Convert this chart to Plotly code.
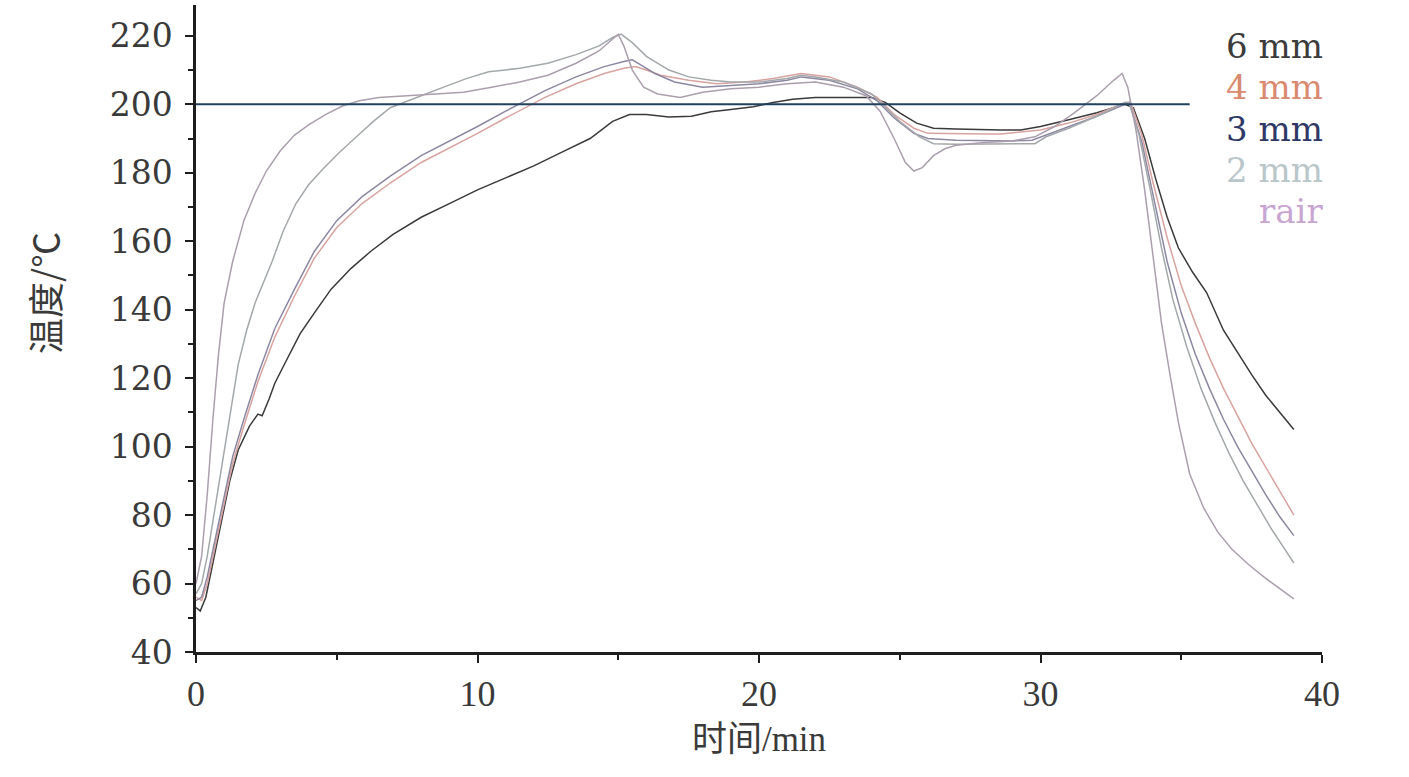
import plotly.graph_objects as go

# Furnace temperature (°C) versus time (min) for each plate thickness
t_6mm = [0, 0.15, 0.35, 0.6, 0.9, 1.2, 1.5, 1.9, 2.2, 2.35, 2.6, 2.8, 3.2, 3.7, 4.2, 4.8, 5.5, 6.2, 7.0, 8.0,
         9, 10, 11, 12, 13, 14, 14.8, 15.4, 16, 16.8, 17.6, 18.3, 19, 19.8, 20.5, 21.2, 22, 23, 24, 24.5,
         25, 25.6, 26.2, 27, 28, 28.6, 29.3, 30, 31, 32, 33, 33.3, 33.7, 34.1, 34.5, 34.9, 35.4, 35.9, 36.5, 37,
         37.5, 38, 38.5, 39]
T_6mm = [53, 52, 56, 66, 78, 90, 99, 106, 109.5, 109, 114, 118.5, 125, 133, 139, 146, 152, 157, 162, 167,
         171, 175, 178.5, 182, 186, 190, 195, 197, 197, 196.3, 196.5, 197.8, 198.5, 199.3, 200.5, 201.5, 202, 202, 202, 200.5,
         197.5, 194.5, 193, 192.8, 192.5, 192.5, 192.5, 193.5, 195.5, 197.5, 200, 199, 190, 178, 167, 158, 151, 145, 134, 127.5,
         121, 115, 110, 105]

t_4mm = [0, 0.2, 0.4, 0.7, 1.0, 1.3, 1.7, 2.2, 2.8, 3.5, 4.2, 5.0, 5.9, 6.9, 8.0, 9.2, 10, 11, 12.4, 13.5,
         14.5, 15.2, 15.6, 16, 16.5, 17.5, 18.5, 19.5, 20.5, 21.5, 22.5, 23.5, 24.2, 24.8, 25.5, 26, 27, 28, 28.6, 29.2,
         30, 31, 32, 33, 33.2, 33.6, 34, 34.5, 35, 35.5, 36, 36.5, 37, 37.5, 38, 38.5, 39]
T_4mm = [56, 55, 60, 72, 84, 95, 106, 119, 132, 144, 155, 164, 171, 177, 183, 188, 191.5, 196, 202, 206,
         209, 210.5, 211, 210, 208.5, 207, 206, 206.5, 207.5, 209, 208, 205, 202, 197, 193, 191.5, 191.3, 191.3, 191.3, 191.8,
         192.5, 194.5, 197, 200.5, 200.5, 191, 177, 161, 147, 136, 126, 117, 109, 101, 94, 87, 80]

t_3mm = [0, 0.2, 0.4, 0.7, 1.0, 1.3, 1.7, 2.2, 2.8, 3.5, 4.2, 5.0, 5.9, 6.9, 8.0, 9.2, 10, 11, 12.4, 13.5,
         14.5, 15.2, 15.5, 15.9, 16.3, 17, 18, 19, 20, 21, 21.5, 22.5, 23.5, 24.2, 24.8, 25.5, 26, 27, 28, 29,
         29.7, 30.2, 31, 32, 33, 33.15, 33.6, 34, 34.5, 35, 35.5, 36, 36.5, 37, 37.5, 38, 38.5, 39]
T_3mm = [55, 56, 62, 74, 86, 97, 108, 121, 134.5, 146, 157, 166, 173, 179, 185, 190, 193.5, 198, 204, 208,
         211, 212.5, 213, 211, 209, 206.5, 205, 205.5, 206, 207, 208, 207, 204.5, 201, 196, 191.5, 190, 189.5, 189.3, 189.3,
         189.5, 191, 193.5, 196.5, 200, 200.5, 189, 173, 154, 139, 127, 117, 108, 100, 93, 86, 79.5, 74]

t_2mm = [0, 0.2, 0.4, 0.7, 1.0, 1.2, 1.5, 1.8, 2.1, 2.7, 3.1, 3.55, 4.0, 4.5, 5.1, 5.7, 6.3, 6.9, 7.5, 8.0,
         8.8, 9.6, 10.4, 11.5, 12.5, 13.5, 14.3, 14.8, 15.1, 15.5, 16.0, 16.8, 17.5, 18.3, 19.0, 20.0, 21.0, 21.5, 22.0, 23.0,
         24.0, 24.5, 25.0, 25.7, 26.2, 27.0, 28.0, 29.0, 29.8, 30.2, 31.0, 32.0, 33.0, 33.15, 33.5, 33.9, 34.3, 34.7, 35.2, 35.7,
         36.2, 36.7, 37.2, 37.7, 38.2, 38.6, 39.0]
T_2mm = [57, 60, 68, 83, 98, 108, 124, 134, 142, 154, 163, 171, 176.5, 181, 186, 190.5, 195, 199, 201, 202.5,
         205, 207.5, 209.5, 210.5, 212, 214.5, 217, 219.5, 220.5, 218, 214, 210, 208, 207, 206.5, 206.5, 207.5, 208.5, 208, 206.5,
         203, 199, 195, 190.5, 188.5, 188.3, 188.3, 188.3, 188.5, 190.5, 193, 196.5, 200.5, 200.5, 191, 175, 158, 143, 129, 117,
         107, 98, 90, 83, 76, 71, 66]

t_rair = [0, 0.2, 0.4, 0.6, 0.8, 1.0, 1.3, 1.7, 2.1, 2.5, 3.0, 3.5, 4.0, 4.6, 5.2, 5.8, 6.5, 7.5, 8.5, 9.5,
          10.5, 11.5, 12.5, 13.5, 14.3, 15.0, 15.2, 15.5, 15.9, 16.4, 17.2, 18.0, 19.0, 20.0, 21.0, 22.0, 23.0, 23.8, 24.3, 24.8,
          25.2, 25.5, 25.8, 26.2, 26.6, 27.0, 28.0, 29.0, 29.8, 30.5, 31.2, 32.0, 32.6, 32.9, 33.1, 33.4, 33.7, 34.0, 34.3, 34.6,
          34.9, 35.3, 35.8, 36.3, 36.8, 37.4, 38.0, 38.5, 39.0]
T_rair = [60, 68, 86, 108, 127, 142, 154, 166, 174, 180.5, 186.5, 191, 194, 197, 199.5, 201, 202, 202.5, 202.8, 203.5,
          205, 206.5, 208.5, 212, 215.5, 220.5, 217, 210, 205, 203, 202, 203.5, 204.5, 205, 206, 206.5, 205, 202.5, 198, 190,
          183, 180.5, 181.5, 185, 187, 188, 188.8, 189.3, 190.5, 193.5, 197.5, 202.5, 207, 209, 205, 192, 175, 155, 136, 121,
          107, 92, 82, 75, 70, 65.5, 61.5, 58.5, 55.5]

series_names = ["6 mm", "4 mm", "3 mm", "2 mm", "rair"]
line_colors = ["#3a3a3a", "#d9a3a0", "#8d88a2", "#a3a8ab", "#ab9fae"]
label_colors = ["#3c3c3c", "#d98a70", "#2f3866", "#b9c6ca", "#c8a6d2"]

y_ticks = [40, 60, 80, 100, 120, 140, 160, 180, 200, 220]
x_ticks = [0, 10, 20, 30, 40]
target_temp = 200
target_end = 35.3

fig = go.Figure()
for t, T, name, col in zip([t_6mm, t_4mm, t_3mm, t_2mm, t_rair],
                           [T_6mm, T_4mm, T_3mm, T_2mm, T_rair],
                           series_names, line_colors):
    fig.add_trace(go.Scatter(x=t, y=T, mode="lines", name=name,
                             line=dict(color=col, width=1.5), showlegend=False))

# reference temperature line
fig.add_shape(type="line", xref="x", yref="y", x0=0, x1=target_end,
              y0=target_temp, y1=target_temp, line=dict(color="#22405f", width=2))

# text-only legend at the upper right
legend_y = [0.936, 0.873, 0.809, 0.745, 0.682]
for name, col, yy in zip(series_names, label_colors, legend_y):
    fig.add_annotation(xref="paper", yref="paper", x=1.003, y=yy, text=name,
                       showarrow=False, xanchor="right", yanchor="middle",
                       font=dict(family="DejaVu Serif", size=34, color=col))

fig.add_annotation(xref="paper", yref="paper", x=-0.135, y=0.555, text="温度/℃",
                   textangle=-90, showarrow=False, xanchor="center", yanchor="middle",
                   font=dict(family="Noto Sans CJK SC", size=36, color="#3a3a3a"))

fig.update_layout(
    width=1409, height=777,
    margin=dict(l=196, r=87, t=5, b=125),
    paper_bgcolor="#ffffff", plot_bgcolor="#ffffff",
    xaxis=dict(range=[0, 40], tickvals=x_ticks, showgrid=False, zeroline=False,
               showline=True, linecolor="#1e1e1e", linewidth=2.5,
               ticks="outside", ticklen=8, tickwidth=2, tickcolor="#1e1e1e",
               minor=dict(dtick=5, ticks="outside", ticklen=5, tickwidth=2, tickcolor="#1e1e1e"),
               tickfont=dict(family="Liberation Serif", size=36, color="#3a3a3a"),
               title=dict(text="时间/min", standoff=14,
                          font=dict(family="Liberation Serif, Noto Sans CJK SC", size=35, color="#3a3a3a"))),
    yaxis=dict(range=[40, 229], tickvals=y_ticks, showgrid=False, zeroline=False,
               showline=True, linecolor="#1e1e1e", linewidth=2.5,
               ticks="outside", ticklen=8, tickwidth=2, tickcolor="#1e1e1e",
               minor=dict(dtick=10, ticks="outside", ticklen=5, tickwidth=2, tickcolor="#1e1e1e"),
               tickfont=dict(family="DejaVu Serif", size=33, color="#3a3a3a"),
               ticklabelstandoff=6),
)

fig.write_html("out.html")
